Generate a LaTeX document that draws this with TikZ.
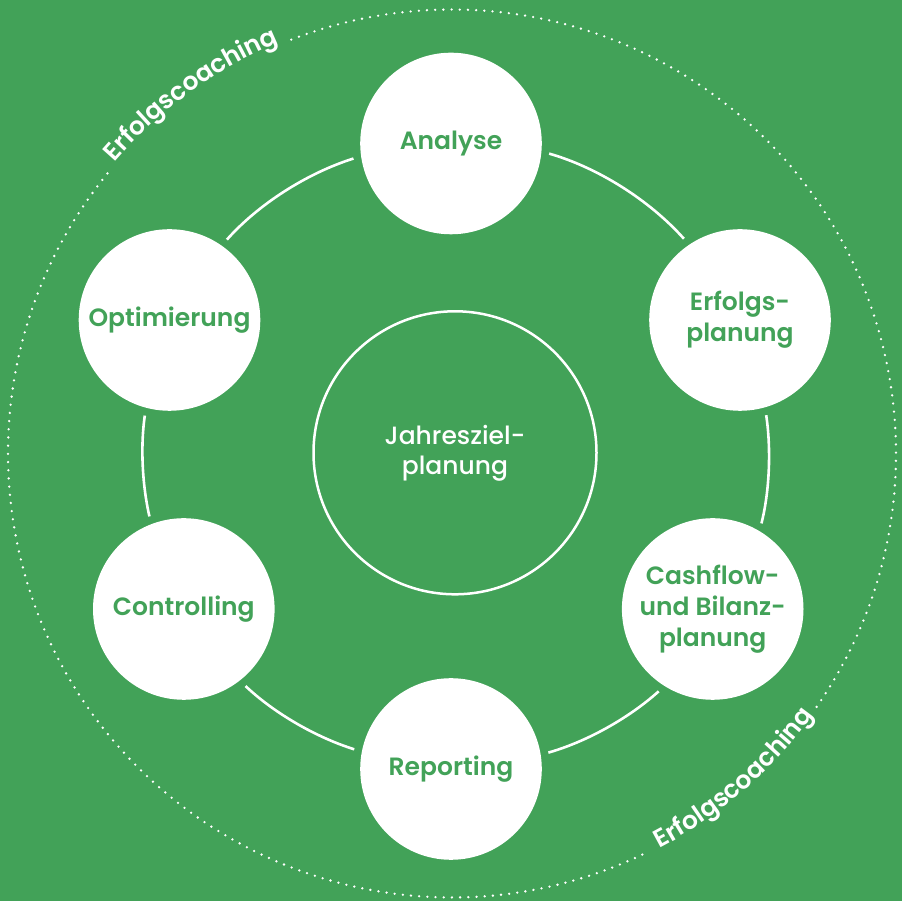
\documentclass[tikz,border=0pt]{standalone}
\usepackage{fontspec}
\setmainfont{Poppins}
\newfontfamily\labelfont{Poppins SemiBold}
\newfontfamily\midfont{Poppins Medium}
\usetikzlibrary{decorations.text}

\definecolor{leaf}{HTML}{42A258}
\newcommand\coach{\labelfont\fontsize{25}{25}\selectfont}

\begin{document}
\begin{tikzpicture}[x=1pt, y=1pt,
  phase/.style={circle, fill=white, text=leaf, minimum size=181.6pt, inner sep=0pt, outer sep=0pt, align=center, font=\labelfont\fontsize{25}{31}\selectfont},
  hub/.style={circle, draw=white, line width=2.5pt, text=white, minimum size=283pt, inner sep=0pt, align=center, font=\midfont\fontsize{25}{30}\selectfont},
  ring/.style={draw=white, line width=2.6pt, shorten >=8pt, shorten <=8pt},
  dotring/.style={draw=white, line width=2.6pt, line cap=round, dash pattern=on 0pt off 8.2pt},
  coaching/.style={decorate, decoration={text effects along path, text={Erfolgscoaching}, text align=center,
    text effects/.cd, text along path, characters={text=white, font=\coach}}}]

\useasboundingbox (0,0) rectangle (902,901);
\fill[leaf] (0,0) rectangle (902,901);

% Nodes
\node (goal) [hub] at (455,448.2) {Jahresziel-\\planung};
\node (ana)  [phase] at (451,757.5) {Analyse};
\node (erf)  [phase] at (740,581) {Erfolgs-\\planung};
\node (cash) [phase] at (712.7,292) {Cashflow-\\und Bilanz-\\planung};
\node (rep)  [phase] at (451,132) {Reporting};
\node (ctrl) [phase] at (183.8,292) {Controlling};
\node (opt)  [phase] at (169.5,581) {Optimierung};

% Ring
\draw[ring] (ana.-5.78) to[out=-16.02, in=131.73, looseness=0.868] (erf.124.49);
\draw[ring] (erf.-74.29) to[out=-81.53, in=75.76, looseness=0.86] (cash.59.81);
\draw[ring] (cash.-122.02) to[out=-137.98, in=15.87, looseness=0.863] (rep.9.15);
\draw[ring] (rep.169.39) to[out=162.67, in=-43.47, looseness=0.863] (ctrl.-52.07);
\draw[ring] (ctrl.111.72) to[out=103.13, in=-98.45, looseness=0.859] (opt.-105.4);
\draw[ring] (opt.55.28) to[out=48.33, in=197.5, looseness=0.867] (ana.-172.73);

% Coaching circle
\coordinate (mid) at (452,447.5);
\draw[dotring] (mid) ++(-34.8:444) arc[start angle=-34.8, end angle=111.8, radius=444];
\draw[dotring] (mid) ++(140.9:444) arc[start angle=140.9, end angle=296.4, radius=444];
\path[coaching] (mid) ++(139.6:446) arc[start angle=139.6, end angle=112.4, radius=446];
\path[coaching] (mid) ++(-62.4:446) arc[start angle=-62.4, end angle=-35.8, radius=446];

\end{tikzpicture}
\end{document}
